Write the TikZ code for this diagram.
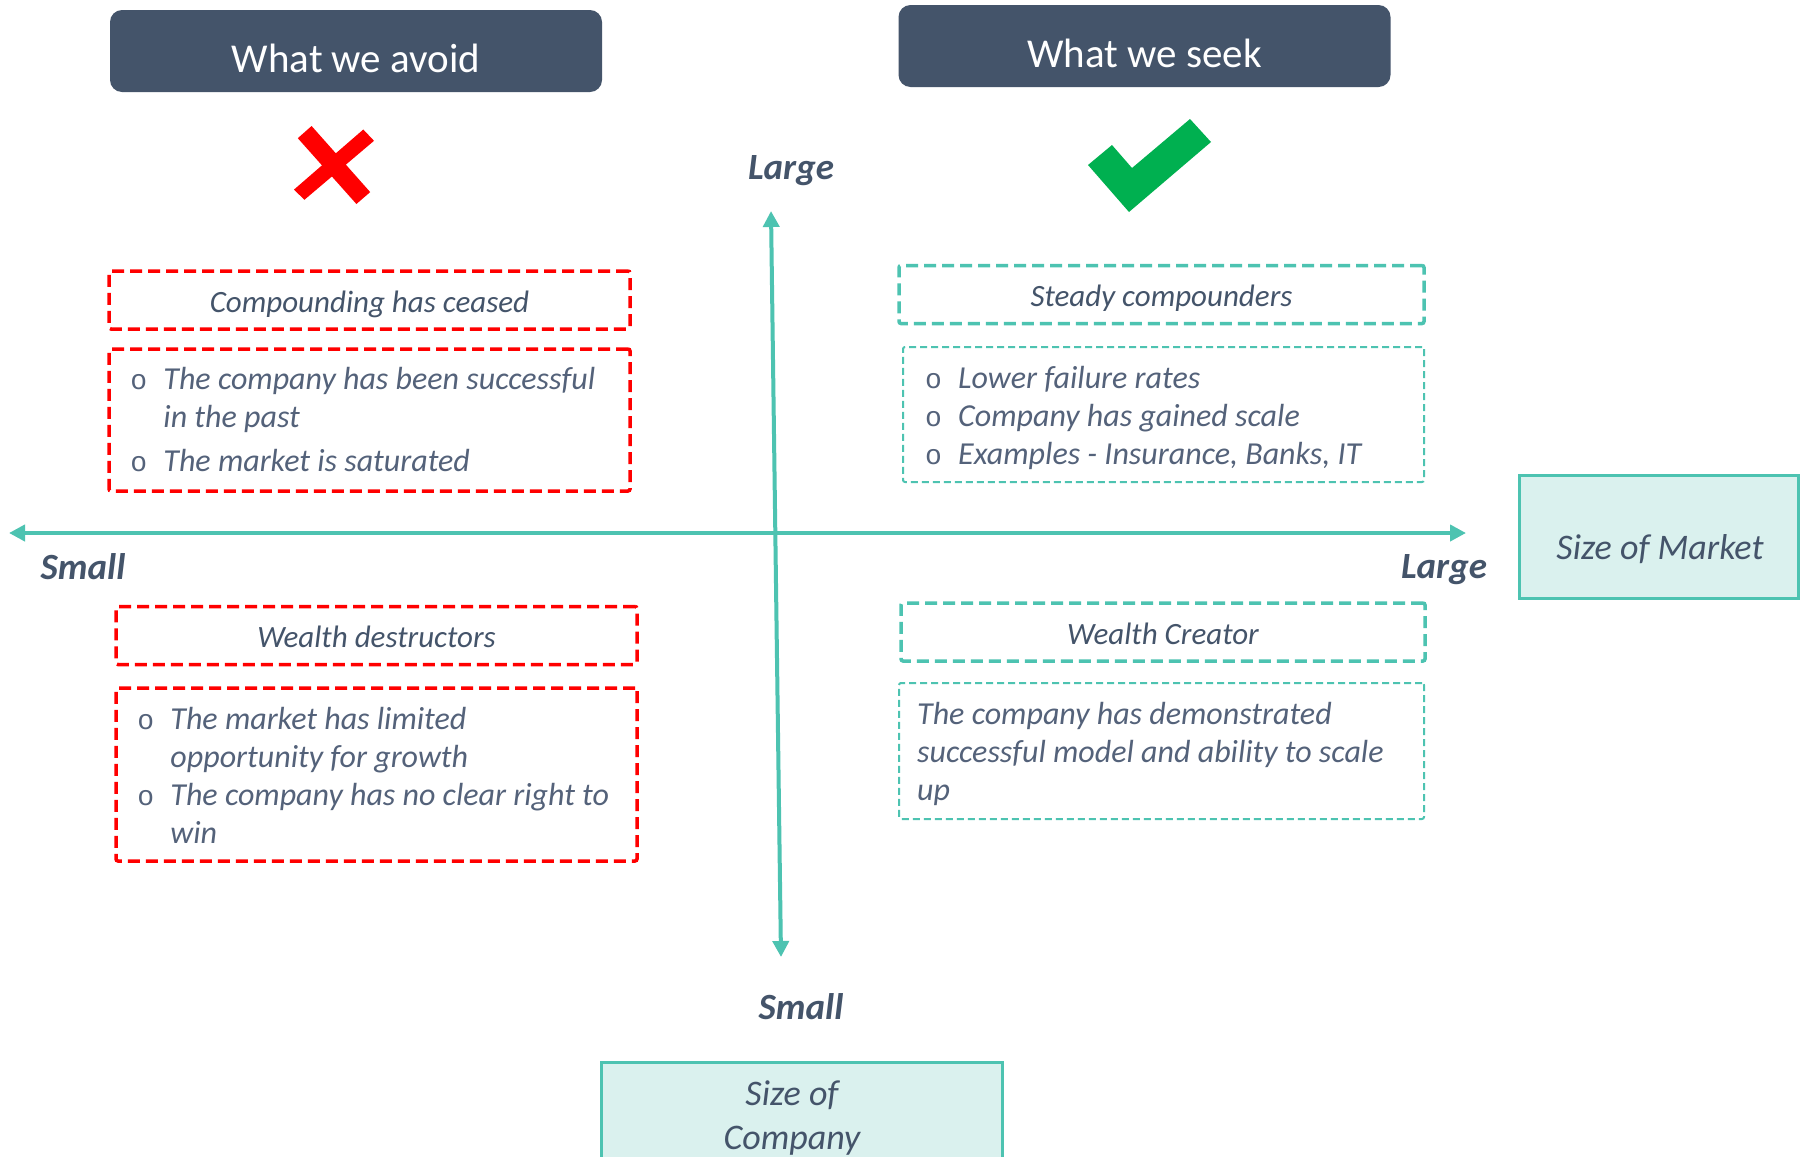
\documentclass[tikz,border=0pt]{standalone}
\usepackage{fontspec}
\setmainfont{Carlito}
\newfontfamily\bulfont{Liberation Mono}
\usetikzlibrary{arrows.meta}
\definecolor{navy}{HTML}{44546A}
\definecolor{tealc}{HTML}{4DC3B1}
\definecolor{tealfill}{HTML}{DAF1EE}
\definecolor{bodytext}{HTML}{54627A}
\definecolor{checkgreen}{HTML}{00B050}
\newcommand\bul{\makebox[33pt][l]{\bulfont\upshape\fontsize{28}{38}\selectfont o}}
\newcommand\ind{\hspace*{33pt}}
\tikzset{
  header/.style={fill=navy, rounded corners=12pt, minimum width=492pt, minimum height=82pt, inner sep=0pt},
  headtext/.style={text=white, font=\fontsize{41}{49}\selectfont, inner sep=0pt},
  redtitle/.style={draw=red, line width=3.5pt, dash pattern=on 12pt off 6pt, rounded corners=2pt,
    minimum height=58pt, inner sep=0pt, text height=25pt, text depth=1pt,
    font=\fontsize{31}{38}\selectfont\itshape, text=navy},
  tealtitle/.style={redtitle, draw=tealc},
  redbody/.style={draw=red, line width=3.5pt, dash pattern=on 12pt off 6pt, rounded corners=2pt, inner sep=0pt},
  tealbody/.style={redbody, draw=tealc, line width=2pt, dash pattern=on 7pt off 4pt},
  bodytxt/.style={anchor=west, inner sep=0pt, align=left, font=\fontsize{32}{38}\selectfont\itshape, text=bodytext},
  axis/.style={draw=tealc, line width=4pt, {Triangle[length=16pt,width=16pt]}-{Triangle[length=16pt,width=16pt]}},
  axlabel/.style={font=\fontsize{37}{44}\selectfont\bfseries\itshape, text=navy, inner sep=0pt},
  sizebox/.style={fill=tealfill, draw=tealc, line width=3pt, inner sep=0pt},
  sizetext/.style={font=\fontsize{36}{44}\selectfont\itshape, text=navy, align=center, inner sep=0pt}
}
\begin{document}
\begin{tikzpicture}[x=1pt,y=-1pt]
\useasboundingbox[fill=white] (0,0) rectangle (1800,1157);
\clip (0,0) rectangle (1800,1157);

% headers
\node[header] (h1) at (356,51) {};
\node[headtext] (h1t) at (356,58) {What we avoid};
\node[header] (h2) at (1144.5,46) {};
\node[headtext] (h2t) at (1144.5,53) {What we seek};

% cross
\fill[red] (297.8,138.2) -- (311.6,126) -- (370.2,192.1) -- (356.4,204) -- cycle;
\fill[red] (363.3,129.5) -- (374,140.8) -- (304.4,199.8) -- (294,189.6) -- cycle;

% check
\fill[checkgreen] (1088,165) -- (1112,145) -- (1132,168) -- (1190,119) -- (1211,142) -- (1129,212) -- cycle;

% axes
\coordinate (xl) at (9,533);
\coordinate (xr) at (1466,533);
\coordinate (yt) at (771,211);
\coordinate (yb) at (781,957);
\draw[axis] (xl) -- (xr);
\draw[axis] (yt) -- (yb);

\node[axlabel] (lt) at (791,171) {Large};
\node[axlabel] (sl) at (83,567) {Small};
\node[axlabel] (lr) at (1444,570) {Large};
\node[axlabel] (sb) at (801,1007) {Small};

% top-left quadrant
\node[redtitle, minimum width=521pt] (t1) at (369.5,300) {Compounding has ceased};
\node[redbody, minimum width=521pt, minimum height=142pt] (b1) at (369.5,420) {};
\node[bodytxt] (b1t) at ([xshift=23pt,yshift=0pt]b1.west)
  {\bul The company has been successful\\ \ind in the past\\[6pt] \bul The market is saturated};

% top-right quadrant
\node[tealtitle, minimum width=525pt] (t2) at (1161.5,294.5) {Steady compounders};
\node[tealbody, minimum width=521pt, minimum height=135pt] (b2) at (1163.5,414.5) {};
\node[bodytxt] (b2t) at ([xshift=23pt,yshift=-3pt]b2.west)
  {\bul Lower failure rates\\ \bul Company has gained scale\\ \bul Examples - Insurance, Banks, IT};

% bottom-left quadrant
\node[redtitle, minimum width=521pt] (t3) at (376.5,635.5) {Wealth destructors};
\node[redbody, minimum width=521pt, minimum height=173pt] (b3) at (376.5,774.5) {};
\node[bodytxt] (b3t) at ([xshift=23pt,yshift=-1pt]b3.west)
  {\bul The market has limited\\ \ind opportunity for growth\\ \bul The company has no clear right to\\ \ind win};

% bottom-right quadrant
\node[tealtitle, minimum width=524pt] (t4) at (1163,632) {Wealth Creator};
\node[tealbody, minimum width=525pt, minimum height=136pt] (b4) at (1161.5,751) {};
\node[bodytxt] (b4t) at ([xshift=19pt,yshift=-3pt]b4.west)
  {The company has demonstrated\\ successful model and ability to scale\\ up};

% size boxes
\node[sizebox, minimum width=279pt, minimum height=123pt] (sm) at (1658.5,536.5) {};
\node[sizetext] (smt) at (1660,549) {Size of Market};
\node[sizebox, minimum width=401pt, minimum height=110pt] (sc) at (801.5,1117) {};
\node[sizetext] (sct) at (792,1118) {Size of\\ Company};
\end{tikzpicture}
\end{document}
